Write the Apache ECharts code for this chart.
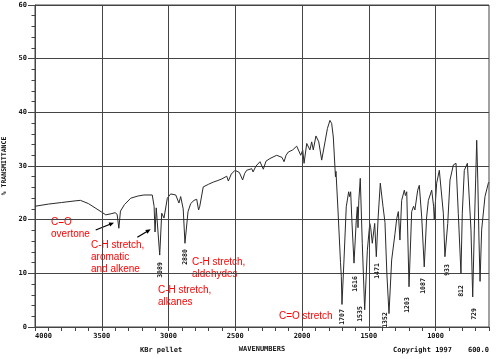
<!DOCTYPE html>
<html><head><meta charset="utf-8">
<script src="https://cdn.jsdelivr.net/npm/echarts@6/dist/echarts.min.js"></script>
<style>html,body{margin:0;padding:0;background:#fff}#c{width:500px;height:359px}</style>
</head><body><div id="c"></div>
<script>
// ---- data ----
const wavenumbers = [4000,3900,3800,3700,3660,3600,3550,3500,3470,3430,3400,3385,3372,3360,3330,3283,3230,3184,3122,3108,3101,3092,3084,3066,3051,3034,3009,2984,2946,2922,2909,2890,2877,2854,2834,2809,2789,2775,2766,2740,2700,2665,2630,2600,2564,2552,2530,2502,2470,2445,2430,2415,2377,2367,2345,2315,2290,2270,2240,2190,2150,2135,2120,2103,2070,2040,2010,1995,1985,1965,1941,1928,1916,1896,1875,1853,1828,1810,1791,1778,1766,1754,1750,1746,1731,1712,1706,1701,1686,1669,1651,1644,1636,1626,1611,1594,1586,1581,1575,1564,1549,1531,1511,1493,1486,1474,1456,1444,1430,1414,1394,1379,1365,1349,1329,1304,1291,1279,1267,1254,1234,1226,1216,1199,1179,1165,1155,1134,1122,1104,1085,1067,1054,1029,1015,1010,992,972,960,942,930,909,892,867,847,830,810,800,785,762,735,722,710,700,692,684,675,667,655,630,605,600];
const transmittance = [22.5,22.9,23.2,23.5,23.6,23.0,22.2,21.4,20.9,21.1,21.3,21.0,18.4,21.6,22.8,24.0,24.4,24.6,24.6,22.5,17.7,22.2,22.0,13.4,21.2,20.3,24.0,24.8,24.6,23.1,24.3,22.0,15.6,21.5,23.0,23.6,23.8,21.8,22.5,26.1,26.6,27.0,27.3,27.6,28.1,27.2,28.5,29.2,28.8,27.4,28.6,29.2,29.5,28.9,30.0,30.8,29.4,30.9,31.4,32.0,31.6,30.8,32.0,32.6,33.0,33.7,32.0,33.0,30.5,34.2,33.0,34.5,33.0,35.6,34.5,31.1,34.5,37.0,38.5,37.9,35.4,29.9,28.0,29.0,21.8,12.0,9.4,4.2,12.5,22.4,25.2,24.3,25.2,19.4,11.9,19.9,22.4,18.5,23.5,27.7,15.6,3.2,14.3,19.3,18.5,15.6,19.3,13.1,20.5,26.8,22.5,19.5,10.0,2.5,12.5,17.4,20.2,21.5,16.2,23.6,25.5,24.5,25.2,7.5,21.5,22.5,21.8,25.5,26.4,20.5,11.2,20.5,23.6,25.5,22.5,20.0,26.8,29.2,28.9,21.2,13.1,19.3,27.4,30.2,30.5,21.2,10.0,21.2,29.2,30.5,18.1,5.6,18.1,27.4,34.8,27.4,16.2,8.5,18.1,24.3,26.8,27.0];
const xTickLabels = [4000,3500,3000,2500,2000,1500,1000];
const xGridValues = [3500,3000,2500,2000,1500,1000];
const peakLabels = ['3089','2880','1707','1616','1535','1471','1352','1203','1087','933','812','729'];
const annotations = ['C=O\novertone','C-H stretch,\naromatic\nand alkene','C-H stretch,\nalkanes','C-H stretch,\naldehydes','C=O stretch'];

// ---- layout ----
const peakLabelPos = [[160,270],[185,257],[342,317],[355,284],[360,314],[377,271],[385,320],[407,305],[423,286],[447,270],[461,291],[474,314]];
const annotPos = [[51,216],[91,239],[158,284],[192,256],[279,310]];

const mono = 'DejaVu Sans Mono';
const chart = echarts.init(document.getElementById('c'), null, {renderer:'canvas'});

const graphics = [];
annotations.forEach((t,i)=>{
  graphics.push({type:'text', x:annotPos[i][0], y:annotPos[i][1], silent:true,
    style:{text:t, fill:'#ff0000', fontFamily:'Liberation Sans', fontSize:10, lineHeight:12, align:'left', verticalAlign:'top', textAlign:'left', textVerticalAlign:'top'}});
});
peakLabels.forEach((t,i)=>{
  graphics.push({type:'text', x:peakLabelPos[i][0], y:peakLabelPos[i][1], rotation:Math.PI/2, silent:true,
    style:{text:t, fill:'#111', fontFamily:mono, fontWeight:'bold', fontSize:6.5, align:'center', verticalAlign:'middle', textAlign:'center', textVerticalAlign:'middle', backgroundColor:'#fff', padding:[0,1]}});
});
// arrows
graphics.push({type:'line', silent:true, shape:{x1:95.7,y1:230,x2:110,y2:224.3}, style:{stroke:'#000', lineWidth:1.2}});
graphics.push({type:'polygon', silent:true, shape:{points:[[114,222.7],[110.2,226.6],[108.6,222.6]]}, style:{fill:'#000'}});
graphics.push({type:'line', silent:true, shape:{x1:137.3,y1:237.3,x2:147,y2:231.5}, style:{stroke:'#000', lineWidth:1.2}});
graphics.push({type:'polygon', silent:true, shape:{points:[[150.7,229.3],[147.5,233.8],[145.3,230.0]]}, style:{fill:'#000'}});
// bottom texts
const bt = {fill:'#111', fontFamily:mono, fontWeight:'bold', fontSize:7, verticalAlign:'middle', textVerticalAlign:'middle'};
graphics.push({type:'text', x:140, y:350, silent:true, style:Object.assign({text:'KBr pellet', align:'left', textAlign:'left'}, bt)});
graphics.push({type:'text', x:393, y:350, silent:true, style:Object.assign({text:'Copyright 1997', align:'left', textAlign:'left'}, bt)});
graphics.push({type:'text', x:489, y:350, silent:true, style:Object.assign({text:'600.0', align:'right', textAlign:'right'}, bt)});

const option = {
  animation:false,
  backgroundColor:'#fff',
  grid:{left:35, right:11, top:5, bottom:32, show:true, borderColor:'#444', borderWidth:1, containLabel:false, outerBoundsMode:'none'},
  xAxis:{
    type:'value', min:600, max:4000, interval:100, inverse:true,
    name:'WAVENUMBERS', nameLocation:'middle', nameGap:19,
    nameTextStyle:{fontFamily:mono, fontWeight:'bold', fontSize:7, color:'#111'},
    axisLine:{show:true, lineStyle:{color:'#444', width:1}},
    axisTick:{show:true, length:4, lineStyle:{color:'#444'}},
    axisLabel:{margin:6, fontFamily:mono, fontWeight:'bold', fontSize:7, color:'#111', alignMaxLabel:'left',
      formatter:v=> xTickLabels.indexOf(v) >= 0 ? String(v) : ''},
    splitLine:{show:false}
  },
  yAxis:{
    type:'value', min:0, max:60, interval:10,
    name:'% TRANSMITTANCE', nameLocation:'middle', nameGap:25, nameRotate:90,
    nameTextStyle:{fontFamily:mono, fontWeight:'bold', fontSize:6.5, color:'#111'},
    axisLine:{show:true, lineStyle:{color:'#444', width:1}},
    axisTick:{show:true, length:7, lineStyle:{color:'#444'}},
    minorTick:{show:true, splitNumber:5, length:3.5, lineStyle:{color:'#444'}},
    axisLabel:{margin:8, fontFamily:mono, fontWeight:'bold', fontSize:7, color:'#111'},
    splitLine:{show:true, lineStyle:{color:'#444', width:1}}
  },
  series:[{
    type:'line', showSymbol:false, symbol:'none', smooth:false,
    data: wavenumbers.map((w,i)=>[w, transmittance[i]]),
    lineStyle:{color:'#2a2a2a', width:1},
    markLine:{silent:true, symbol:'none', label:{show:false}, animation:false,
      lineStyle:{color:'#444', width:1, type:'solid'},
      data: xGridValues.map(v=>({xAxis:v}))}
  }],
  graphic: graphics
};
chart.setOption(option);
</script></body></html>
